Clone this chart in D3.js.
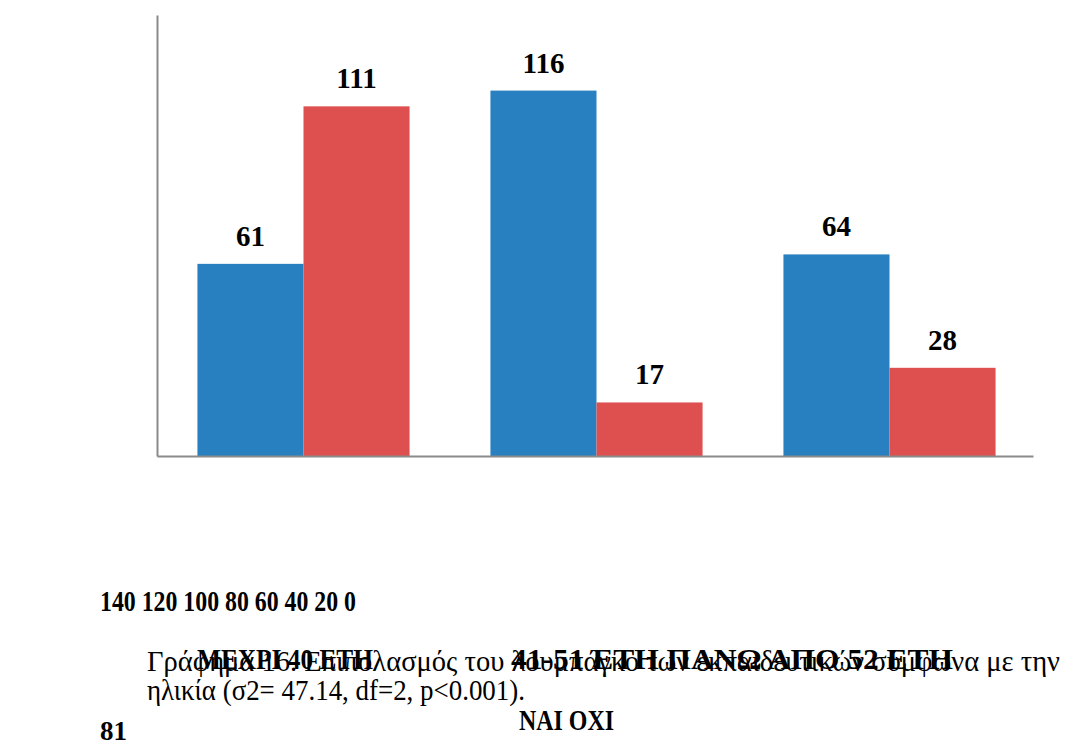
<!DOCTYPE html>
<html>
<head>
<meta charset="utf-8">
<script src="https://cdn.jsdelivr.net/npm/d3@7/dist/d3.min.js"></script>
<style>
  html, body { margin: 0; padding: 0; background: #ffffff; }
  svg { display: block; }
  text { font-family: "Liberation Serif", "Times New Roman", serif; fill: #000; }
</style>
</head>
<body>
<svg id="chart" width="1073" height="745"></svg>
<script>
// Lumbago prevalence among teachers by age group
const categories = ["ΜΕΧΡΙ 40 ΕΤΗ", "41-51 ΕΤΗ", "ΠΑΝΩ ΑΠΟ 52 ΕΤΗ"];
const series = ["ΝΑΙ", "ΟΧΙ"];
const yesValues = [61, 116, 64];
const noValues = [111, 17, 28];
const yTicks = [140, 120, 100, 80, 60, 40, 20, 0];
const captionLines = [
  "Γράφημα 16. Επιπολασμός του λουμπάγκο των εκπαιδευτικών σύμφωνα με την",
  "ηλικία (σ2= 47.14, df=2, p<0.001)."
];
const pageNumber = "81";

const colors = { "ΝΑΙ": "#2880c1", "ΟΧΙ": "#de5050" };

const rows = categories.map((c, i) => ({
  category: c,
  values: [
    { key: series[0], value: yesValues[i] },
    { key: series[1], value: noValues[i] }
  ]
}));

const svg = d3.select("#chart");

const x0 = d3.scaleBand()
  .domain(categories)
  .range([157, 1036])
  .paddingInner(0.276)
  .paddingOuter(0.138);

const x1 = d3.scaleBand()
  .domain(series)
  .range([0, x0.bandwidth()])
  .padding(0);

const y = d3.scaleLinear()
  .domain([0, d3.max(yTicks)])
  .range([456, 15]);

// bars
const groups = svg.append("g")
  .selectAll("g")
  .data(rows)
  .join("g")
  .attr("transform", d => `translate(${x0(d.category)},0)`);

groups.selectAll("rect")
  .data(d => d.values)
  .join("rect")
  .attr("x", d => x1(d.key))
  .attr("width", x1.bandwidth())
  .attr("y", d => y(d.value))
  .attr("height", d => y(0) - y(d.value))
  .attr("fill", d => colors[d.key]);

// value labels
groups.selectAll("text.value")
  .data(d => d.values)
  .join("text")
  .attr("class", "value")
  .attr("x", d => x1(d.key) + x1.bandwidth() / 2)
  .attr("y", d => y(d.value) - 18)
  .attr("text-anchor", "middle")
  .style("font-weight", "bold")
  .style("font-size", "29px")
  .text(d => d.value);

// axis lines (no ticks, no labels)
const axisColor = "#8a8a8a";
const yAxis = svg.append("g")
  .attr("transform", "translate(157,0)")
  .call(d3.axisLeft(y).tickValues([]).tickSizeOuter(0));
yAxis.select(".domain").attr("stroke", axisColor).attr("stroke-width", 2);

const xLine = d3.scaleLinear().domain([0, 1]).range([157, 1033]);
const xAxis = svg.append("g")
  .attr("transform", "translate(0,456)")
  .call(d3.axisBottom(xLine).tickValues([]).tickSizeOuter(0));
xAxis.select(".domain").attr("stroke", axisColor).attr("stroke-width", 2);

// text flowed below the plot
function line(txt, xPos, yPos, size, bold, width) {
  const t = svg.append("text")
    .attr("x", xPos)
    .attr("y", yPos)
    .style("font-size", size + "px")
    .style("font-weight", bold ? "bold" : "normal")
    .text(txt);
  if (width) t.attr("textLength", width).attr("lengthAdjust", "spacingAndGlyphs");
  return t;
}

line(yTicks.join(" "), 100, 611, 30, true, 256);

// caption (regular)
line(captionLines[0], 147, 671, 29, false, 913);
line(captionLines[1], 147, 700, 29, false, 378);

// category labels printed over the caption
line(categories[0], 197, 669, 30, true, 176);
line(categories.slice(1).join(" "), 511, 669, 30, true, 442);

line(series.join(" "), 519, 730, 30, true, 95);
line(pageNumber, 100, 740, 27, true, null);
</script>
</body>
</html>
